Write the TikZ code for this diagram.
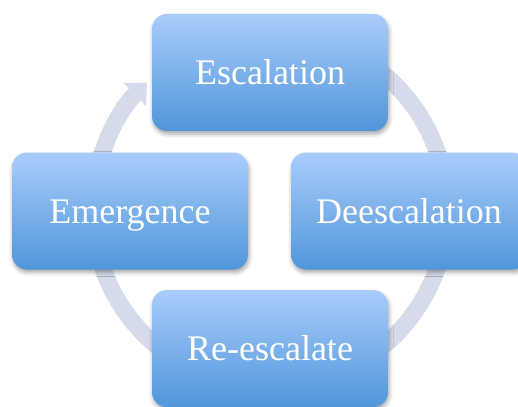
\documentclass[tikz,border=0pt]{standalone}
\usepackage{fontspec}
\setmainfont{Liberation Serif}
\usetikzlibrary{arrows.meta,shadows.blur}
\definecolor{boxtop}{HTML}{A9CCFB}
\definecolor{boxbot}{HTML}{5096DA}
\definecolor{ringc}{HTML}{D5DBEA}
\tikzset{
  stage/.style={rounded corners=15pt, minimum width=236pt, minimum height=117pt,
    top color=boxtop, bottom color=boxbot, text=white,
    font=\fontsize{36}{40}\selectfont, inner sep=0pt, text height=30pt, text depth=6pt,
    blur shadow={shadow xshift=1pt, shadow yshift=-3pt, shadow blur radius=4pt, shadow opacity=35}},
  ring/.style={draw=ringc, line width=17pt, -{Triangle[width=31pt,length=17pt]}}
}
\begin{document}
\begin{tikzpicture}[x=1pt,y=-1pt]
\useasboundingbox (0,0) rectangle (518,406);
\clip (0,0) rectangle (518,406);
\coordinate (c) at (270,210);
\draw[ring] ([shift={(80:177pt)}]c) arc[start angle=80, end angle=-226, radius=177pt];
\node[stage] (esc) at (270,72.5) {Escalation};
\node[stage] (emg) at (130,211) {Emergence};
\node[stage] (dee) at (409,211) {Deescalation};
\node[stage] (res) at (270,348.5) {Re-escalate};
\end{tikzpicture}
\end{document}
